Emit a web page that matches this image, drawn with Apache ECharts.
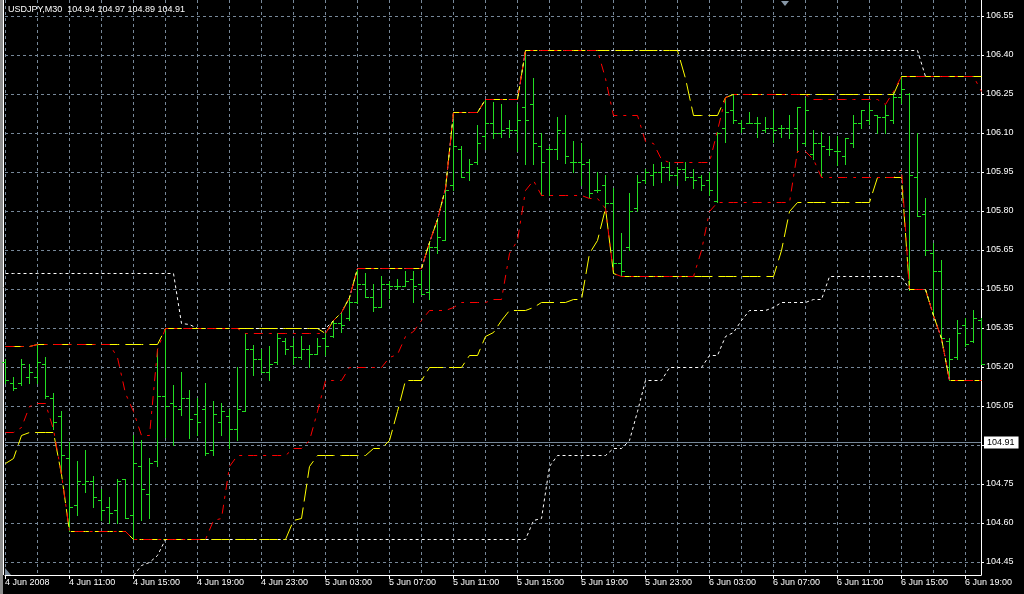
<!DOCTYPE html>
<html>
<head>
<meta charset="utf-8">
<script src="https://cdn.jsdelivr.net/npm/echarts@6/dist/echarts.min.js"></script>
<style>
html,body{margin:0;padding:0;background:#000;}
#c{width:1024px;height:594px;}
</style>
</head>
<body>
<div id="c"></div>
<script>
// ---- data (USDJPY M30, 4 Jun 2008 07:00 -> 6 Jun 2008 20:00) ----
const tickLabels = ['4 Jun 2008','4 Jun 11:00','4 Jun 15:00','4 Jun 19:00','4 Jun 23:00','5 Jun 03:00','5 Jun 07:00','5 Jun 11:00','5 Jun 15:00','5 Jun 19:00','5 Jun 23:00','6 Jun 03:00','6 Jun 07:00','6 Jun 11:00','6 Jun 15:00','6 Jun 19:00'];
const priceTicks = [104.45,104.60,104.75,104.90,105.05,105.20,105.35,105.50,105.65,105.80,105.95,106.10,106.25,106.40,106.55];
const priceTickLabels = ['104.45','104.60','104.75','','105.05','105.20','105.35','105.50','105.65','105.80','105.95','106.10','106.25','106.40','106.55'];
const titleText = 'USDJPY,M30  104.94 104.97 104.89 104.91';
const lastPrice = 104.91;

const open = [105.22,105.14,105.14,105.16,105.16,105.21,105.08,105.01,104.85,104.67,
104.75,104.76,104.69,104.66,104.65,104.77,104.63,104.82,104.71,104.84,
105.09,105.06,105.04,105.08,105.02,105.04,104.88,104.99,105.01,104.96,
105.03,105.27,105.23,105.18,105.22,105.30,105.28,105.24,105.27,105.25,
105.31,105.32,105.37,105.39,105.45,105.52,105.47,105.43,105.52,105.51,
105.51,105.54,105.52,105.49,105.66,105.69,105.90,106.04,105.95,105.99,
106.09,106.14,106.10,106.12,106.11,106.20,106.21,106.05,106.04,106.04,
106.10,105.99,105.99,105.99,105.88,105.90,105.83,105.60,105.66,105.81,
105.92,105.94,105.95,105.97,105.94,105.96,105.93,105.93,105.92,105.84,
106.12,106.19,106.14,106.14,106.14,106.11,106.12,106.12,106.12,106.12,
106.06,106.02,106.06,106.04,106.03,106.01,106.06,106.14,106.15,106.17,
106.16,106.15,106.24,106.25,105.93,105.79,105.64,105.57,105.30,105.24,
105.36,105.30,105.38];
const high = [105.23,105.16,105.23,105.21,105.29,105.24,105.10,105.03,104.91,104.84,
104.88,104.78,104.73,104.70,104.77,104.77,104.94,104.92,104.85,105.27,
105.35,105.13,105.18,105.11,105.08,105.14,105.07,105.06,105.04,105.20,
105.33,105.285,105.27,105.28,105.33,105.31,105.31,105.32,105.285,105.31,
105.33,105.38,105.41,105.47,105.58,105.56,105.52,105.55,105.53,105.54,
105.57,105.57,105.57,105.68,105.77,105.89,106.18,106.05,106.00,106.13,
106.23,106.22,106.21,106.15,106.21,106.42,106.31,106.10,106.05,106.16,
106.17,106.07,106.06,106.00,105.95,105.94,105.89,105.715,105.87,105.94,
105.96,105.98,105.99,105.99,105.97,105.99,105.96,105.94,105.95,106.105,
106.24,106.25,106.15,106.18,106.16,106.16,106.19,106.13,106.17,106.20,
106.233,106.11,106.105,106.09,106.09,106.08,106.17,106.19,106.214,106.17,
106.207,106.258,106.32,106.255,106.10,105.85,105.675,105.61,105.31,105.38,
105.387,105.42,105.387];
const low = [105.14,105.11,105.13,105.14,105.14,105.08,104.96,104.79,104.57,104.63,
104.72,104.66,104.61,104.60,104.60,104.62,104.54,104.61,104.62,104.82,
104.93,104.90,105.015,104.925,104.94,104.86,104.86,104.94,104.89,104.92,
105.03,105.17,105.18,105.15,105.21,105.25,105.21,105.23,105.20,105.25,
105.245,105.317,105.335,105.38,105.445,105.47,105.417,105.43,105.465,105.50,
105.51,105.45,105.48,105.46,105.64,105.69,105.88,105.93,105.92,105.98,
106.04,106.08,106.086,106.086,106.03,105.98,105.98,105.86,105.86,106.00,
105.986,105.95,105.90,105.853,105.874,105.81,105.56,105.55,105.65,105.80,
105.907,105.90,105.91,105.92,105.90,105.92,105.89,105.88,105.86,105.835,
106.066,106.137,106.105,106.137,106.086,106.105,106.066,106.086,106.08,106.028,
106.054,106.00,105.934,106.015,105.975,105.98,106.045,106.118,106.134,106.10,
106.10,106.14,106.217,105.496,105.78,105.63,105.40,105.306,105.15,105.23,
105.28,105.297,105.21];
const close = [105.15,105.12,105.21,105.18,105.22,105.09,104.99,104.86,104.66,104.76,
104.76,104.70,104.65,104.64,104.76,104.62,104.83,104.73,104.83,105.09,
105.05,105.05,105.08,105.00,104.99,104.87,105.02,105.03,104.96,105.04,
105.27,105.23,105.18,105.21,105.31,105.27,105.24,105.27,105.25,105.28,
105.28,105.37,105.36,105.45,105.52,105.47,105.43,105.52,105.51,105.51,
105.53,105.51,105.48,105.66,105.70,105.88,106.05,105.93,105.98,106.06,
106.14,106.10,106.11,106.11,106.15,106.15,106.06,105.99,106.04,106.11,
106.01,105.99,105.98,105.87,105.88,105.83,105.60,105.57,105.80,105.91,
105.95,105.95,105.97,105.94,105.96,105.93,105.92,105.90,105.88,106.10,
106.18,106.15,106.12,106.14,106.14,106.12,106.11,106.12,106.10,106.20,
106.19,106.06,106.05,106.04,106.03,106.08,106.14,106.19,106.19,106.16,
106.17,106.24,106.27,105.94,105.78,105.65,105.57,105.31,105.23,105.33,
105.29,105.39,105.21];

// channel lines (red = short, yellow = medium, white = long)
const redUp = [105.28,105.28,105.28,105.28,105.29,105.29,105.29,105.29,105.29,105.29,
105.29,105.29,105.29,105.29,105.24,105.10,105.03,104.94,104.94,105.27,
105.35,105.35,105.35,105.35,105.35,105.35,105.35,105.35,105.35,105.35,
105.33,105.33,105.33,105.33,105.33,105.33,105.33,105.33,105.33,105.33,
105.33,105.38,105.41,105.47,105.58,105.58,105.58,105.58,105.58,105.58,
105.58,105.58,105.58,105.68,105.77,105.89,106.18,106.18,106.18,106.18,
106.23,106.23,106.23,106.23,106.23,106.42,106.42,106.42,106.42,106.42,
106.42,106.42,106.42,106.42,106.42,106.31,106.17,106.17,106.17,106.17,
106.07,106.06,106.00,105.99,105.99,105.99,105.99,105.99,105.99,106.11,
106.24,106.25,106.25,106.25,106.25,106.25,106.25,106.25,106.25,106.25,
106.25,106.23,106.23,106.23,106.23,106.23,106.23,106.23,106.23,106.23,
106.21,106.26,106.32,106.32,106.32,106.32,106.32,106.32,106.32,106.32,
106.32,106.32,106.26];
const redLo = [104.95,104.95,104.97,105.05,105.06,105.06,104.96,104.79,104.57,104.57,
104.57,104.57,104.57,104.57,104.57,104.57,104.54,104.54,104.54,104.54,
104.54,104.54,104.54,104.54,104.54,104.54,104.61,104.62,104.82,104.86,
104.86,104.86,104.86,104.86,104.86,104.86,104.89,104.89,104.92,105.03,
105.15,105.15,105.15,105.20,105.20,105.20,105.20,105.20,105.24,105.25,
105.32,105.34,105.38,105.42,105.42,105.42,105.43,105.45,105.45,105.45,
105.45,105.46,105.46,105.64,105.69,105.88,105.92,105.86,105.86,105.86,
105.86,105.86,105.86,105.85,105.85,105.81,105.56,105.55,105.55,105.55,
105.55,105.55,105.55,105.55,105.55,105.55,105.55,105.65,105.80,105.835,
105.835,105.835,105.835,105.835,105.835,105.835,105.835,105.835,105.835,106.03,
106.03,106.00,105.93,105.93,105.93,105.93,105.93,105.93,105.93,105.93,
105.93,105.93,105.96,105.50,105.50,105.50,105.40,105.31,105.15,105.15,
105.15,105.15,105.15];
const yelUp = [105.28,105.28,105.28,105.28,105.29,105.29,105.29,105.29,105.29,105.29,
105.29,105.29,105.29,105.29,105.29,105.29,105.29,105.29,105.29,105.29,
105.35,105.35,105.35,105.35,105.35,105.35,105.35,105.35,105.35,105.35,
105.35,105.35,105.35,105.35,105.35,105.35,105.35,105.35,105.35,105.35,
105.33,105.38,105.41,105.47,105.58,105.58,105.58,105.58,105.58,105.58,
105.58,105.58,105.58,105.68,105.77,105.89,106.18,106.18,106.18,106.18,
106.23,106.23,106.23,106.23,106.23,106.42,106.42,106.42,106.42,106.42,
106.42,106.42,106.42,106.42,106.42,106.42,106.42,106.42,106.42,106.42,
106.42,106.42,106.42,106.42,106.42,106.31,106.17,106.17,106.17,106.17,
106.24,106.25,106.25,106.25,106.25,106.25,106.25,106.25,106.25,106.25,
106.25,106.25,106.25,106.25,106.25,106.25,106.25,106.25,106.25,106.25,
106.25,106.25,106.32,106.32,106.32,106.32,106.32,106.32,106.32,106.32,
106.32,106.32,106.32];
const yelLo = [104.83,104.85,104.94,104.95,104.95,104.95,104.95,104.79,104.57,104.57,
104.57,104.57,104.57,104.57,104.57,104.57,104.54,104.54,104.54,104.54,
104.54,104.54,104.54,104.54,104.54,104.54,104.54,104.54,104.54,104.54,
104.54,104.54,104.54,104.54,104.54,104.54,104.61,104.62,104.82,104.86,
104.86,104.86,104.86,104.86,104.86,104.86,104.89,104.89,104.92,105.03,
105.15,105.15,105.15,105.20,105.20,105.20,105.20,105.20,105.245,105.245,
105.32,105.335,105.38,105.42,105.42,105.42,105.43,105.45,105.45,105.45,
105.45,105.46,105.46,105.64,105.69,105.81,105.56,105.55,105.55,105.55,
105.55,105.55,105.55,105.55,105.55,105.55,105.55,105.55,105.55,105.55,
105.55,105.55,105.55,105.55,105.55,105.55,105.55,105.65,105.80,105.835,
105.835,105.835,105.835,105.835,105.835,105.835,105.835,105.835,105.835,105.93,
105.93,105.93,105.93,105.50,105.50,105.50,105.40,105.31,105.15,105.15,
105.15,105.15,105.15];
const whtUp = [105.56,105.56,105.56,105.56,105.56,105.56,105.56,105.56,105.56,105.56,
105.56,105.56,105.56,105.56,105.56,105.56,105.56,105.56,105.56,105.56,
105.56,105.56,105.37,105.365,105.35,105.35,105.35,105.35,105.35,105.35,
105.35,105.35,105.35,105.35,105.35,105.35,105.35,105.35,105.35,105.35,
105.35,105.38,105.41,105.47,105.58,105.58,105.58,105.58,105.58,105.58,
105.58,105.58,105.58,105.68,105.77,105.89,106.18,106.18,106.18,106.18,
106.23,106.23,106.23,106.23,106.23,106.42,106.42,106.42,106.42,106.42,
106.42,106.42,106.42,106.42,106.42,106.42,106.42,106.42,106.42,106.42,
106.42,106.42,106.42,106.42,106.42,106.42,106.42,106.42,106.42,106.42,
106.42,106.42,106.42,106.42,106.42,106.42,106.42,106.42,106.42,106.42,
106.42,106.42,106.42,106.42,106.42,106.42,106.42,106.42,106.42,106.42,
106.42,106.42,106.42,106.42,106.42,106.32,106.32,106.32,106.32,106.32,
106.32,106.32,106.32];
const whtLo = [null,null,null,null,null,null,null,null,null,null,
null,null,null,null,null,null,104.40,104.44,104.45,104.475,
104.54,104.54,104.54,104.54,104.54,104.54,104.54,104.54,104.54,104.54,
104.54,104.54,104.54,104.54,104.54,104.54,104.54,104.54,104.54,104.54,
104.54,104.54,104.54,104.54,104.54,104.54,104.54,104.54,104.54,104.54,
104.54,104.54,104.54,104.54,104.54,104.54,104.54,104.54,104.54,104.54,
104.54,104.54,104.54,104.54,104.54,104.54,104.61,104.62,104.82,104.86,
104.86,104.86,104.86,104.86,104.86,104.86,104.89,104.89,104.92,105.03,
105.15,105.15,105.15,105.20,105.20,105.20,105.20,105.20,105.245,105.245,
105.32,105.335,105.38,105.42,105.42,105.42,105.43,105.45,105.45,105.45,
105.45,105.46,105.46,105.55,105.55,105.55,105.55,105.55,105.55,105.55,
105.55,105.55,105.55,105.50,105.50,105.50,105.40,105.31,105.15,105.15,
105.15,105.15,105.15];

// ---- categories: 30 minute bars ----
const categories = [];
(function(){
  const days = ['4 Jun','5 Jun','6 Jun'];
  let d = 0, h = 7, m = 0;
  for (let i = 0; i < open.length; i++) {
    categories.push(days[d] + ' ' + String(h).padStart(2,'0') + ':' + String(m).padStart(2,'0'));
    m += 30; if (m === 60) { m = 0; h++; if (h === 24) { h = 0; d++; } }
  }
})();

const ohlc = categories.map((c, i) => [i, open[i], high[i], low[i], close[i]]);

const GRID = '#778899';
const FONT = 'Liberation Sans';
const barColor = '#22dd22';

const chart = echarts.init(document.getElementById('c'), null, {renderer: 'canvas', width: 1024, height: 594});

// channel line drawn as one crisp polyline through the axis scales
function chanSeries(name, arr, color, dash, z) {
  return {
    name, type: 'custom', xAxisIndex: 0, yAxisIndex: 0, z, silent: true,
    data: [[0, lastPrice]],
    renderItem: function (params, api) {
      const children = [];
      let pts = [];
      const flush = () => {
        if (pts.length > 1) {
          children.push({type: 'polyline', shape: {points: pts},
            style: {stroke: color, lineWidth: 1, lineDash: dash, fill: null}});
        }
        pts = [];
      };
      for (let i = 0; i < arr.length; i++) {
        if (arr[i] == null) { flush(); continue; }
        const p = api.coord([i, arr[i]]);
        pts.push([Math.round(p[0]) + 0.5, Math.round(p[1]) + 0.5]);
      }
      flush();
      return {type: 'group', children};
    }
  };
}

const gridLines = priceTicks.map(v => ({
  yAxis: v,
  lineStyle: {color: GRID, type: [3, 3], width: 1},
  label: {show: false}
}));

chart.setOption({
  backgroundColor: '#000',
  animation: false,
  title: {
    text: titleText, left: 8, top: 5, padding: 0,
    textStyle: {color: '#fff', fontSize: 9, fontWeight: 'normal', fontFamily: FONT}
  },
  grid: {left: 5, right: 43, top: 0, bottom: 19, containLabel: false},
  xAxis: [{
    type: 'category', data: categories, boundaryGap: false,
    axisLine: {show: true, lineStyle: {color: '#fff', width: 1}},
    axisTick: {show: true, interval: 7, length: 4, lineStyle: {color: '#fff'}},
    axisLabel: {
      show: true, interval: 7, align: 'left', margin: 3, color: '#fff',
      fontSize: 9, fontFamily: FONT,
      formatter: (v, idx) => (idx % 8 === 0 && tickLabels[idx / 8]) ? tickLabels[idx / 8] : ''
    },
    splitLine: {show: true, interval: 3, lineStyle: {color: GRID, width: 1, type: [3, 3]}}
  }],
  yAxis: [{
    type: 'value', position: 'right', min: 104.40, max: 106.6115,
    axisLine: {show: true, lineStyle: {color: '#fff', width: 1}},
    axisTick: {show: true, length: 3, customValues: priceTicks, lineStyle: {color: '#fff'}},
    axisLabel: {
      show: true, margin: 5, color: '#fff', fontSize: 9, fontFamily: FONT,
      customValues: priceTicks,
      formatter: v => {
        const k = priceTicks.findIndex(t => Math.abs(t - v) < 1e-6);
        return k >= 0 ? priceTickLabels[k] : '';
      }
    },
    splitLine: {show: false}
  }],
  graphic: [
    {type: 'rect', shape: {x: 0, y: 0, width: 3, height: 594}, style: {fill: '#8c8c8c'}, silent: true},
    {type: 'line', shape: {x1: 3.5, y1: 0, x2: 3.5, y2: 575}, style: {stroke: '#fff', lineWidth: 1}, silent: true},
    {type: 'polygon', shape: {points: [[781, 1], [789, 1], [785, 6]]}, style: {fill: '#8898a8'}, silent: true},
    {type: 'polygon', shape: {points: [[5, 568], [5, 575], [11, 575]]}, style: {fill: GRID}, silent: true}
  ],
  series: [
    {
      name: 'bars', type: 'custom', xAxisIndex: 0, yAxisIndex: 0, z: 3, silent: true,
      data: ohlc,
      renderItem: function (params, api) {
        const idx = api.value(0);
        const pH = api.coord([idx, api.value(2)]);
        const pL = api.coord([idx, api.value(3)]);
        const pO = api.coord([idx, api.value(1)]);
        const pC = api.coord([idx, api.value(4)]);
        const X = Math.floor(pH[0]) + 0.5;
        const yo = Math.round(pO[1]) + 0.5;
        const yc = Math.round(pC[1]) + 0.5;
        const st = {stroke: barColor, lineWidth: 1};
        return {
          type: 'group',
          children: [
            {type: 'line', shape: {x1: X, y1: Math.round(pH[1]), x2: X, y2: Math.round(pL[1]) + 1}, style: st},
            {type: 'line', shape: {x1: X - 3.5, y1: yo, x2: X - 0.5, y2: yo}, style: st},
            {type: 'line', shape: {x1: X + 0.5, y1: yc, x2: X + 3.5, y2: yc}, style: st}
          ]
        };
      },
      markLine: {
        silent: true, symbol: ['none', 'none'], z: 1, animation: false,
        precision: 4,
        lineStyle: {color: GRID, type: 'solid', width: 1},
        label: {
          show: true, position: 'end', distance: 3, formatter: lastPrice.toFixed(2),
          color: '#000', backgroundColor: '#fff', padding: [2, 4, 1, 3],
          fontSize: 9, fontFamily: FONT
        },
        data: gridLines.concat([{yAxis: lastPrice}])
      }
    },
    chanSeries('whiteUp', whtUp, '#ffffff', [3, 3], 4),
    chanSeries('whiteLo', whtLo, '#ffffff', [3, 3], 4),
    chanSeries('yellowUp', yelUp, '#ffff00', [18, 6], 5),
    chanSeries('yellowLo', yelLo, '#ffff00', [18, 6], 5),
    chanSeries('redUp', redUp, '#ff0000', [9, 6, 3, 6], 6),
    chanSeries('redLo', redLo, '#ff0000', [9, 6, 3, 6], 6)
  ]
});
</script>
</body>
</html>
